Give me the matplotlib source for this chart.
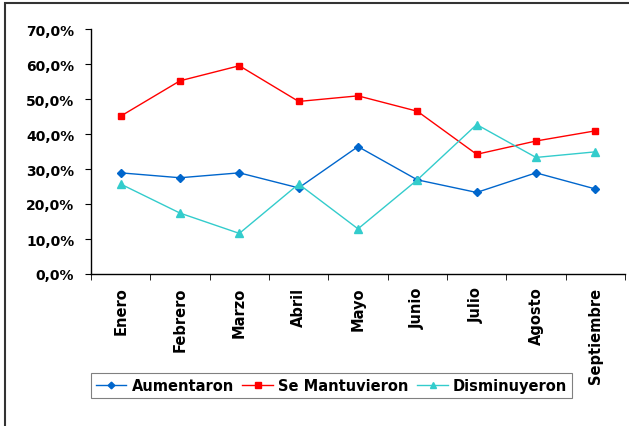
import matplotlib
matplotlib.use("Agg")
import matplotlib.pyplot as plt
from matplotlib.patches import Rectangle
from matplotlib.ticker import FuncFormatter, FixedLocator

# datos (porcentaje)
meses = ["Enero", "Febrero", "Marzo", "Abril", "Mayo", "Junio",
         "Julio", "Agosto", "Septiembre"]
aumentaron = [28.9, 27.5, 28.9, 24.6, 36.4, 26.9, 23.3, 28.9, 24.3]
se_mantuvieron = [45.1, 55.2, 59.5, 49.3, 50.9, 46.5, 34.2, 38.0, 40.9]
disminuyeron = [25.7, 17.4, 11.6, 25.7, 12.9, 26.9, 42.7, 33.3, 34.9]

plt.rcParams["font.family"] = ["DejaVu Sans"]
plt.rcParams["font.weight"] = "bold"
plt.rcParams["font.size"] = 10.5

fig = plt.figure(figsize=(6.29, 4.27), dpi=100)
ax = fig.add_axes([91 / 629, 1 - 275 / 427, 534 / 629, 245 / 427])

# marco de la figura (solo se ve arriba y a la izquierda)
fig.patches.append(Rectangle((5 / 629, -0.1), 1.2, 1 - 4 / 427 + 0.1,
                             transform=fig.transFigure, fill=False,
                             edgecolor="#333333", linewidth=1.5))

x = list(range(len(meses)))
ax.plot(x, aumentaron, color="#0066CC", marker="D", markersize=4,
        linewidth=1, label="Aumentaron")
ax.plot(x, se_mantuvieron, color="#FF0000", marker="s", markersize=4.8,
        linewidth=1, label="Se Mantuvieron")
ax.plot(x, disminuyeron, color="#33CCCC", marker="^", markersize=5.5,
        linewidth=1, label="Disminuyeron")

ax.set_xlim(-0.5, len(meses) - 0.5)
ax.set_ylim(0, 70)
ax.set_yticks(range(0, 71, 10))
ax.yaxis.set_major_formatter(FuncFormatter(lambda v, p: f"{v:.1f}%".replace(".", ",")))

ax.set_xticks(x)
ax.set_xticklabels(meses, rotation=90, fontweight="bold")
ax.xaxis.set_minor_locator(FixedLocator([i - 0.5 for i in range(len(meses) + 1)]))
ax.tick_params(axis="x", which="major", length=0, pad=9)
ax.tick_params(axis="x", which="minor", length=4, direction="out", color="#000000")
ax.tick_params(axis="y", length=4, direction="out", pad=8, labelsize=10)

for s in ["top", "right"]:
    ax.spines[s].set_visible(False)
for s in ["left", "bottom"]:
    ax.spines[s].set_color("#000000")
    ax.spines[s].set_linewidth(1)

leg = fig.legend(loc="center", bbox_to_anchor=(331.5 / 629, 1 - 386.5 / 427),
                 ncol=3, frameon=True, fancybox=False, framealpha=1,
                 edgecolor="#808080", handlelength=2.1, columnspacing=0.6,
                 handletextpad=0.35, borderpad=0.35, markerscale=0.85)
leg.get_frame().set_linewidth(0.8)

fig.savefig("out.png", dpi=100)
